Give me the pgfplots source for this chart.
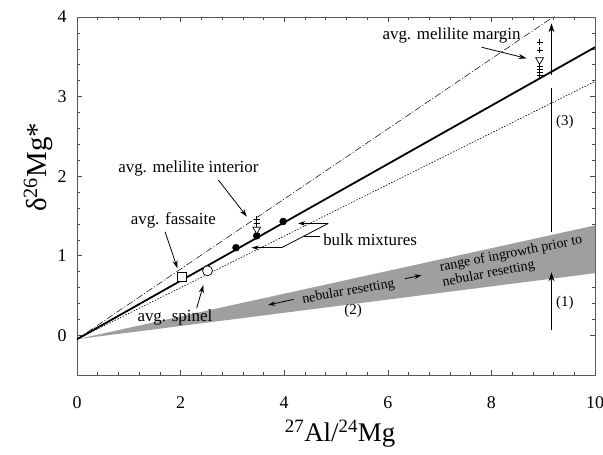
\documentclass[border=0pt]{standalone}
\usepackage{fontspec}
\setmainfont{Liberation Serif}
\usepackage{pgfplots}
\pgfplotsset{compat=1.18}
\usetikzlibrary{arrows.meta}
\begin{document}
\begin{tikzpicture}[x=1bp,y=1bp]
\path[use as bounding box] (-77bp,-80bp) rectangle (526bp,375bp);
\begin{axis}[
  at={(0,0)}, anchor=south west,
  scale only axis, width=518bp, height=358bp,
  xmin=0, xmax=10, ymin=-0.5, ymax=4,
  xtick={0,2,...,10}, ytick={0,1,...,4},
  minor x tick num=4, minor y tick num=4,
  tick align=inside, tick pos=both,
  major tick length=5bp, minor tick length=3bp,
  axis line style={gray!70!black, line width=0.6bp},
  every tick/.style={gray!60!black, line width=0.5bp},
  /pgf/number format/assume math mode=true,
  tick label style={font=\fontsize{18}{21}\selectfont},
  xticklabel style={yshift=-18bp},
  yticklabel style={xshift=-7bp},
  xlabel={\textsuperscript{27}Al/\textsuperscript{24}Mg},
  ylabel={δ\textsuperscript{26}Mg*},
  xlabel style={at={(axis description cs:0.508,-0.165)}, anchor=center, font=\fontsize{27}{31}\selectfont},
  ylabel style={at={(axis description cs:-0.075,0.58)}, anchor=center, font=\fontsize{29}{33}\selectfont},
  clip=true,
]
% band
\addplot[fill=gray!75, draw=none] coordinates {(0,-0.05) (10,1.38) (10,0.78) (0,-0.05)} -- cycle;
% lines
\addplot[black, line width=1.8bp] coordinates {(0,-0.05) (10,3.62)};
\addplot[black, line width=0.5bp, dash pattern=on 7bp off 2bp on 1bp off 2bp] coordinates {(0,-0.05) (10,4.356)};
\addplot[black, line width=0.6bp, dash pattern=on 1.5bp off 1.5bp] coordinates {(0,-0.05) (10,3.19)};
% points
\addplot[only marks, mark=square*, mark options={fill=white, draw=black, line width=0.7bp}, mark size=4.5bp] coordinates {(2.02,0.74)};
\addplot[only marks, mark=*, mark options={fill=white, draw=black, line width=0.7bp}, mark size=5bp] coordinates {(2.52,0.81)};
\addplot[only marks, mark=*, mark options={fill=black}, mark size=3.5bp] coordinates {(3.07,1.10) (3.47,1.25) (3.98,1.43)};
\addplot[only marks, mark=+, mark options={black, line width=0.8bp}, mark size=3bp] coordinates {(3.47,1.46) (3.47,1.40) (3.47,1.28)};
\addplot[only marks, mark=triangle*, mark options={rotate=180, fill=white, draw=black, line width=0.7bp}, mark size=4.5bp] coordinates {(3.47,1.33)};
\addplot[only marks, mark=+, mark options={black, line width=0.8bp}, mark size=3bp] coordinates {(8.93,3.68) (8.93,3.58) (8.93,3.38) (8.93,3.34) (8.93,3.30) (8.93,3.27)};
\addplot[only marks, mark=triangle*, mark options={rotate=180, fill=white, draw=black, line width=0.7bp}, mark size=4.5bp] coordinates {(8.93,3.46)};
% vertical arrows
\draw[black, line width=0.9bp, -{Stealth[length=9bp,width=6bp]}] (axis cs:9.16,0.06) -- (axis cs:9.16,0.79);
\draw[black, line width=0.9bp] (axis cs:9.16,1.30) -- (axis cs:9.16,3.11);
\draw[black, line width=0.9bp, -{Stealth[length=9bp,width=6bp]}] (axis cs:9.16,3.27) -- (axis cs:9.16,3.92);
% annotation text
\begin{scope}[font=\fontsize{15}{17}\selectfont]
\node at (axis cs:9.42,0.40) {(1)};
\node at (axis cs:9.42,2.68) {(3)};
\node at (axis cs:5.33,0.30) {(2)};
\end{scope}
\begin{scope}[font=\fontsize{14}{15.5}\selectfont]
\node[rotate=10] at (axis cs:5.24,0.545) {nebular resetting};
\node[rotate=11, align=left, anchor=west, inner sep=0pt] at (axis cs:7.03,0.75) {range of ingrowth prior to\\nebular resetting};
\end{scope}
\begin{scope}[font=\fontsize{17}{19}\selectfont]
\node at (axis cs:7.23,3.77) {avg. melilite margin};
\node at (axis cs:2.15,2.10) {avg. melilite interior};
\node at (axis cs:1.86,1.45) {avg. fassaite};
\node at (axis cs:1.89,0.22) {avg. spinel};
\node[anchor=west, inner sep=0pt] at (axis cs:4.75,1.20) {bulk mixtures};
\end{scope}
\begin{scope}[black, line width=0.8bp]
\draw[-{Stealth[length=7bp,width=4.5bp]}] (axis cs:4.18,0.45) -- (axis cs:3.69,0.38);
\draw[-{Stealth[length=7bp,width=4.5bp]}] (axis cs:6.33,0.71) -- (axis cs:6.65,0.755);
\draw[-{Stealth[length=8bp,width=5bp]}] (axis cs:7.81,3.62) -- (axis cs:8.68,3.48);
\draw[-{Stealth[length=8bp,width=5bp]}] (axis cs:2.73,1.95) -- (axis cs:3.28,1.49);
\draw[-{Stealth[length=8bp,width=5bp]}] (axis cs:1.70,1.30) -- (axis cs:1.94,0.84);
\draw[-{Stealth[length=8bp,width=5bp]}] (axis cs:2.31,0.34) -- (axis cs:2.44,0.63);
\draw[-{Stealth[length=7bp,width=4.5bp]}] (axis cs:4.85,1.405) -- (axis cs:4.27,1.405);
\draw (axis cs:4.85,1.405) -- (axis cs:3.95,1.10);
\draw (axis cs:4.38,1.245) -- (axis cs:4.70,1.245);
\draw[-{Stealth[length=7bp,width=4.5bp]}] (axis cs:3.95,1.10) -- (axis cs:3.37,1.10);
\end{scope}
\end{axis}
\end{tikzpicture}
\end{document}
